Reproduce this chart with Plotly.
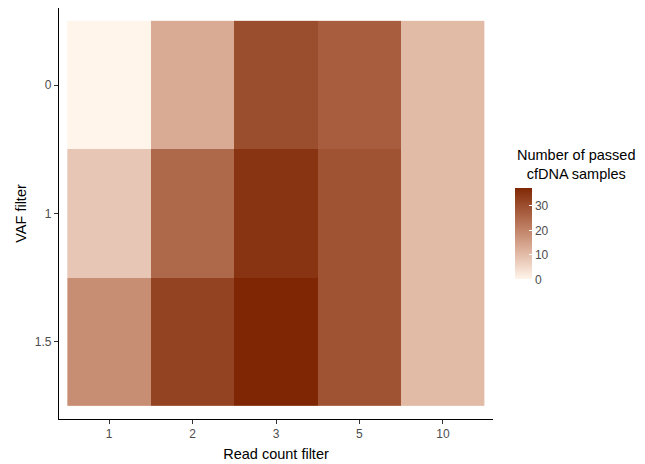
import plotly.graph_objects as go

# Filter grid: read-count thresholds (columns) x VAF thresholds (rows)
read_count = ["1", "2", "3", "5", "10"]
vaf = ["0", "1", "1.5"]
passed = [
    [0, 13, 30, 27, 10],
    [8, 25, 35, 29, 10],
    [18, 32, 37, 29, 10],
]
tick_vals = [0, 10, 20, 30]

LOW, HIGH = "#FFF5EB", "#7F2704"


def _hex_to_rgb(h):
    h = h.lstrip("#")
    return [int(h[i:i + 2], 16) / 255 for i in (0, 2, 4)]


def _lin(c):
    return c / 12.92 if c <= 0.04045 else ((c + 0.055) / 1.055) ** 2.4


def _gam(c):
    c = max(0.0, min(1.0, c))
    return 12.92 * c if c <= 0.0031308 else 1.055 * c ** (1 / 2.4) - 0.055


WHITE = (0.95047, 1.0, 1.08883)


def _f(t):
    return t ** (1 / 3) if t > 0.008856 else 7.787 * t + 16 / 116


def _finv(t):
    return t ** 3 if t ** 3 > 0.008856 else (t - 16 / 116) / 7.787


def rgb_to_lab(rgb):
    r, g, b = [_lin(c) for c in rgb]
    x = 0.4124 * r + 0.3576 * g + 0.1805 * b
    y = 0.2126 * r + 0.7152 * g + 0.0722 * b
    z = 0.0193 * r + 0.1192 * g + 0.9505 * b
    fx, fy, fz = _f(x / WHITE[0]), _f(y / WHITE[1]), _f(z / WHITE[2])
    return (116 * fy - 16, 500 * (fx - fy), 200 * (fy - fz))


def lab_to_hex(lab):
    L, a, b = lab
    fy = (L + 16) / 116
    fx = fy + a / 500
    fz = fy - b / 200
    x, y, z = _finv(fx) * WHITE[0], _finv(fy) * WHITE[1], _finv(fz) * WHITE[2]
    r = 3.2406 * x - 1.5372 * y - 0.4986 * z
    g = -0.9689 * x + 1.8758 * y + 0.0415 * z
    bl = 0.0557 * x - 0.2040 * y + 1.0570 * z
    return "#%02X%02X%02X" % tuple(round(_gam(c) * 255) for c in (r, g, bl))


# Gradient interpolated in Lab space, like ggplot's scale_fill_gradient
lo, hi = rgb_to_lab(_hex_to_rgb(LOW)), rgb_to_lab(_hex_to_rgb(HIGH))
n = 20
colorscale = []
for i in range(n + 1):
    t = i / n
    colorscale.append([t, lab_to_hex(tuple(lo[k] + (hi[k] - lo[k]) * t for k in range(3)))])

FONT = "Liberation Sans, Arial, Helvetica, sans-serif"
TICK_GREY = "#4D4D4D"
W, H = 645, 464
ml, mr, mt, mb = 59, 152, 8, 45
pw, ph = W - ml - mr, H - mt - mb

fig = go.Figure(
    go.Heatmap(
        x=read_count,
        y=vaf,
        z=passed,
        zmin=0,
        zmax=37,
        colorscale=colorscale,
        colorbar=dict(
            thickness=17,
            len=91,
            lenmode="pixels",
            x=(515 - ml) / pw,
            xanchor="left",
            y=(H - mb - 234) / ph,
            yanchor="middle",
            outlinewidth=0,
            tickvals=tick_vals,
            ticks="inside",
            ticklen=3,
            tickcolor="white",
            tickfont=dict(family=FONT, size=12, color=TICK_GREY),
            ticklabelposition="outside",
            xpad=0,
            ypad=0,
        ),
        hovertemplate="Read count %{x}<br>VAF %{y}<br>%{z}<extra></extra>",
    )
)

fig.add_annotation(
    text="Number of passed<br>cfDNA samples",
    xref="paper",
    yref="paper",
    x=(576 - ml) / pw,
    y=(H - mb - 164) / ph,
    xanchor="center",
    yanchor="middle",
    align="center",
    showarrow=False,
    font=dict(family=FONT, size=14.5, color="black"),
)

axis_common = dict(
    type="category",
    automargin=False,
    showgrid=False,
    zeroline=False,
    showline=True,
    linecolor="black",
    linewidth=1.1,
    ticks="outside",
    ticklen=4,
    tickcolor="#333333",
    tickfont=dict(family=FONT, size=12, color=TICK_GREY),
    title_font=dict(family=FONT, size=14.5, color="black"),
    fixedrange=True,
)

fig.update_layout(
    template="none",
    width=W,
    height=H,
    margin=dict(l=ml, r=mr, t=mt, b=mb),
    paper_bgcolor="white",
    plot_bgcolor="white",
    font=dict(family=FONT, color=TICK_GREY),
    xaxis=dict(axis_common, range=[-0.6, 4.6], title=dict(text="Read count filter", standoff=8)),
    yaxis=dict(axis_common, range=[2.6, -0.6], title=dict(text="VAF filter", standoff=4)),
)

fig.write_html("out.html")
